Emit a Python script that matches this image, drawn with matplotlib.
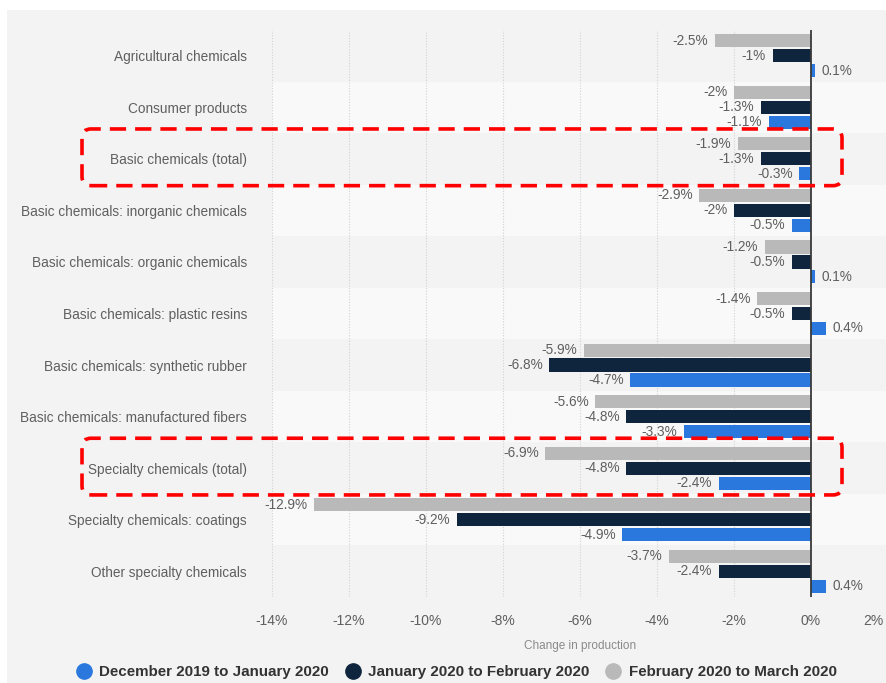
import matplotlib.pyplot as plt
import numpy as np
from matplotlib.lines import Line2D
from matplotlib.patches import FancyBboxPatch, Rectangle
from matplotlib.transforms import IdentityTransform

plt.rcParams["font.family"] = ["Liberation Sans", "DejaVu Sans"]

categories = [
    "Agricultural chemicals",
    "Consumer products",
    "Basic chemicals (total)",
    "Basic chemicals: inorganic chemicals",
    "Basic chemicals: organic chemicals",
    "Basic chemicals: plastic resins",
    "Basic chemicals: synthetic rubber",
    "Basic chemicals: manufactured fibers",
    "Specialty chemicals (total)",
    "Specialty chemicals: coatings",
    "Other specialty chemicals",
]
series_names = [
    "December 2019 to January 2020",
    "January 2020 to February 2020",
    "February 2020 to March 2020",
]
dec_jan = [0.1, -1.1, -0.3, -0.5, 0.1, 0.4, -4.7, -3.3, -2.4, -4.9, 0.4]
jan_feb = [-1.0, -1.3, -1.3, -2.0, -0.5, -0.5, -6.8, -4.8, -4.8, -9.2, -2.4]
feb_mar = [-2.5, -2.0, -1.9, -2.9, -1.2, -1.4, -5.9, -5.6, -6.9, -12.9, -3.7]
value_labels = {
    "dec_jan": ["0.1%", "-1.1%", "-0.3%", "-0.5%", "0.1%", "0.4%", "-4.7%", "-3.3%", "-2.4%", "-4.9%", "0.4%"],
    "jan_feb": ["-1%", "-1.3%", "-1.3%", "-2%", "-0.5%", "-0.5%", "-6.8%", "-4.8%", "-4.8%", "-9.2%", "-2.4%"],
    "feb_mar": ["-2.5%", "-2%", "-1.9%", "-2.9%", "-1.2%", "-1.4%", "-5.9%", "-5.6%", "-6.9%", "-12.9%", "-3.7%"],
}
xticks = [-14, -12, -10, -8, -6, -4, -2, 0, 2]
highlighted = ["Basic chemicals (total)", "Specialty chemicals (total)"]

COLORS = {"dec_jan": "#2a78de", "jan_feb": "#0f253d", "feb_mar": "#b9b9b9"}
TEXT = "#5f5f5f"

W, H = 886, 683
fig = plt.figure(figsize=(W / 100, H / 100), dpi=100)
fig.patch.set_facecolor("white")

# light grey panel behind the chart
fig.add_artist(Rectangle((7 / W, 0), 1, 1 - 10 / H, transform=fig.transFigure,
                         facecolor="#f3f3f3", edgecolor="none", zorder=-10))

ax = fig.add_axes([272 / W, 1 - 597 / H, (888 - 272) / W, (597 - 30) / H])
ax.set_facecolor("none")
ax.set_xlim(-14, 2)
ax.set_ylim(len(categories) - 0.5, -0.5)

y = np.arange(len(categories))
# alternating row bands
for i in y:
    if i % 2 == 1:
        ax.axhspan(i - 0.5, i + 0.5, color="#f9f9f9", zorder=0, lw=0)

for t in xticks:
    if t != 0:
        ax.axvline(t, color="#d2d2d2", lw=0.8, ls=(0, (1, 1.5)), zorder=1)
ax.axvline(0, color="#3a3a3a", lw=1.3, zorder=4)

bh = 0.255
offsets = {"feb_mar": -0.29, "jan_feb": 0.0, "dec_jan": 0.29}
data = {"dec_jan": dec_jan, "jan_feb": jan_feb, "feb_mar": feb_mar}
for key in ["feb_mar", "jan_feb", "dec_jan"]:
    vals = np.array(data[key])
    ax.barh(y + offsets[key], vals, height=bh, color=COLORS[key], zorder=3, lw=0)
    for yi, v, lab in zip(y, vals, value_labels[key]):
        if v < 0:
            ax.text(v - 0.17, yi + offsets[key], lab, ha="right", va="center",
                    fontsize=9.8, color=TEXT, zorder=5)
        else:
            ax.text(v + 0.17, yi + offsets[key], lab, ha="left", va="center",
                    fontsize=9.8, color=TEXT, zorder=5)

ax.set_yticks(y)
ax.set_yticklabels(categories, fontsize=9.8, color=TEXT)
ax.set_xticks(xticks[:-1])
ax.set_xticklabels([f"{t}%" for t in xticks[:-1]], fontsize=10, color=TEXT)
# last tick sits on the figure edge: draw it right-aligned so it stays readable
ax.annotate(f"{xticks[-1]}%", xy=(xticks[-1], 0), xycoords=("data", "axes fraction"),
            xytext=(-3, -12), textcoords="offset points", ha="right", va="top",
            fontsize=10, color=TEXT)
ax.tick_params(axis="both", length=0)
ax.tick_params(axis="y", pad=18)
ax.tick_params(axis="x", pad=12)
for s in ax.spines.values():
    s.set_visible(False)
ax.set_xlabel("Change in production", fontsize=8.5, color="#8a8a8a", labelpad=9)

# red dashed highlight boxes
for name in highlighted:
    r = categories.index(name)
    _, top = ax.transData.transform((0, r - 0.58))
    _, bot = ax.transData.transform((0, r + 0.52))
    box = FancyBboxPatch((82, bot), 842 - 82, top - bot,
                         boxstyle="round,pad=0,rounding_size=9",
                         transform=IdentityTransform(), fill=False,
                         edgecolor="#ff0000", lw=2.6, ls=(0, (4.5, 2.5)), zorder=10)
    fig.add_artist(box)

handles = [Line2D([], [], marker="o", ls="none", markersize=11,
                  markerfacecolor=COLORS[k], markeredgecolor=COLORS[k])
           for k in ["dec_jan", "jan_feb", "feb_mar"]]
fig.legend(handles, series_names, loc="center", bbox_to_anchor=(0.515, 1 - 672 / H),
           ncol=3, frameon=False, handlelength=1.0, handletextpad=0.5,
           columnspacing=1.1, borderpad=0,
           prop={"weight": "bold", "size": 10.9}, labelcolor="#333333")

fig.savefig("out.png", dpi=100)
